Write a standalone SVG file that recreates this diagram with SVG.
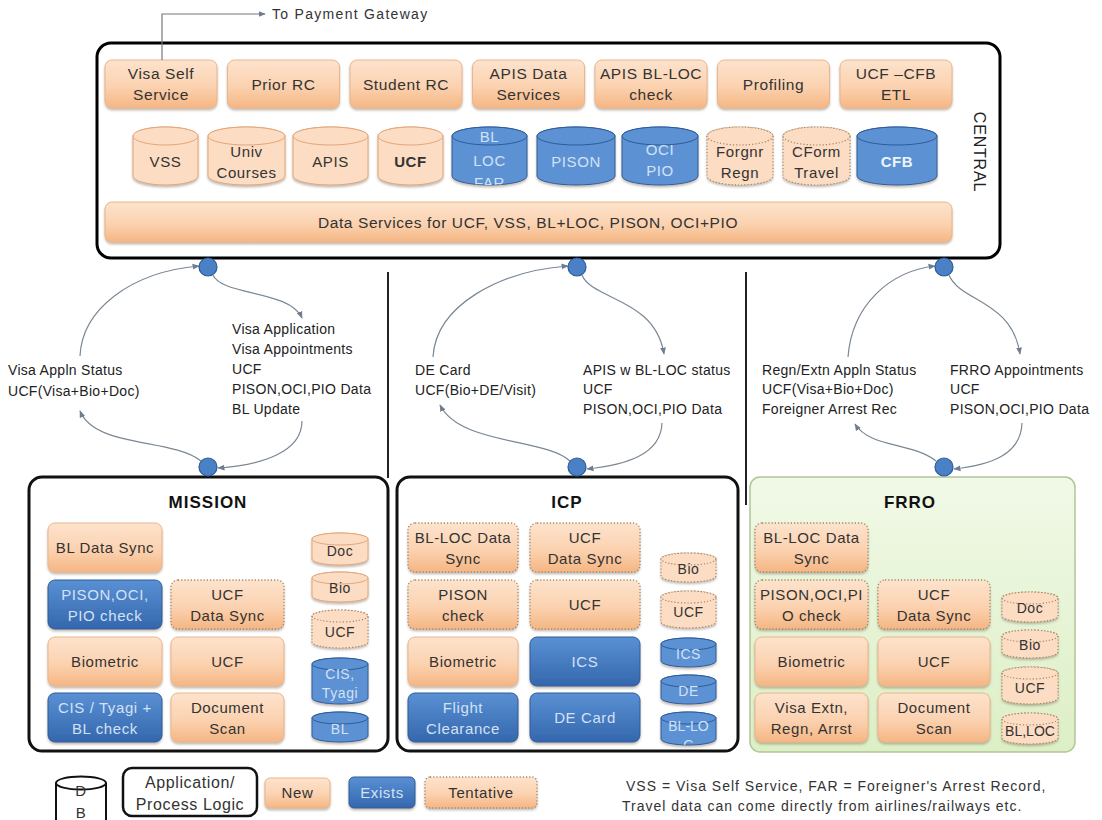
<svg xmlns="http://www.w3.org/2000/svg" width="1102" height="820" viewBox="0 0 1102 820">
<defs>
  <linearGradient id="gO" x1="0" y1="0" x2="0" y2="1">
    <stop offset="0" stop-color="#fde3cd"/>
    <stop offset="0.55" stop-color="#fbd2b0"/>
    <stop offset="1" stop-color="#f5b683"/>
  </linearGradient>
  <linearGradient id="gB" x1="0" y1="0" x2="0" y2="1">
    <stop offset="0" stop-color="#5a90d4"/>
    <stop offset="1" stop-color="#3467ad"/>
  </linearGradient>
  <linearGradient id="gG" x1="0" y1="0" x2="0" y2="1">
    <stop offset="0" stop-color="#f1f9e7"/>
    <stop offset="1" stop-color="#dcefc5"/>
  </linearGradient>
  <filter id="sh" x="-10%" y="-10%" width="120%" height="140%">
    <feDropShadow dx="0" dy="2" stdDeviation="1.3" flood-color="#7d6b5c" flood-opacity="0.45"/>
  </filter>
  <marker id="ah" viewBox="0 0 10 10" refX="9" refY="5" markerWidth="6" markerHeight="6" orient="auto">
    <path d="M0,1 L10,5 L0,9 Z" fill="#6f7d8c"/>
  </marker>
  <clipPath id="clBL"><path d="M452 136 V176 A37.5 9 0 0 0 527 176 V136 A37.5 9 0 0 0 452 136 Z"/></clipPath>
  <clipPath id="clIB"><path d="M661 718 V739 A27.5 6 0 0 0 716 739 V718 A27.5 6 0 0 0 661 718 Z"/></clipPath>
</defs>
<style>
  .n{fill:url(#gO);stroke:#eab58c;stroke-width:1;filter:url(#sh)}
  .e{fill:url(#gB);stroke:#2d5c9a;stroke-width:1;filter:url(#sh)}
  .d{fill:url(#gO);stroke:#a8855f;stroke-width:1.3;stroke-dasharray:1.2 2;filter:url(#sh)}
  .co{fill:#fcdcc2;stroke:#e2a77b;stroke-width:1}
  .cb{fill:#5c91d3;stroke:#2d5c9a;stroke-width:1}
  .cd{fill:#fcdcc2;stroke:#a8855f;stroke-width:1.2;stroke-dasharray:1.2 2}
  text{font-family:"Liberation Sans",Arial,sans-serif}
  .t{font-size:15px;fill:#333;text-anchor:middle;letter-spacing:0.6px}
  .tt{font-size:15.5px}
  .w{fill:#d3e1f5}
  .b{font-weight:bold}
  .l{font-size:14px;fill:#222;letter-spacing:0.3px}
  .ti{font-size:17px;font-weight:bold;fill:#111;text-anchor:middle;letter-spacing:1px}
  .c{fill:none;stroke:#7a8794;stroke-width:1.2;marker-end:url(#ah)}
  .dot{fill:#4a80c6;stroke:#2d5c9a;stroke-width:1.2}
  .dv{stroke:#222;stroke-width:2}
</style>
<rect width="1102" height="820" fill="#fff"/>

<!-- CENTRAL -->
<g id="central">
  <rect x="97" y="43" width="903" height="215" rx="14" fill="#fff" stroke="#000" stroke-width="3"/>
  <text class="t" transform="translate(974,152) rotate(90)" style="font-size:16px;fill:#222;letter-spacing:0.8px">CENTRAL</text>
</g>
<g id="visa-self-service"><rect class="n" x="105" y="60" width="112" height="48" rx="7"/><text class="t tt" x="161" y="79">Visa Self</text><text class="t tt" x="161" y="100">Service</text></g>
<g id="prior-rc"><rect class="n" x="227.5" y="60" width="112" height="48" rx="7"/><text class="t tt" x="283.5" y="90">Prior RC</text></g>
<g id="student-rc"><rect class="n" x="350" y="60" width="112" height="48" rx="7"/><text class="t tt" x="406" y="90">Student RC</text></g>
<g id="apis-data-services"><rect class="n" x="472.5" y="60" width="112" height="48" rx="7"/><text class="t tt" x="528.5" y="79">APIS Data</text><text class="t tt" x="528.5" y="100">Services</text></g>
<g id="apis-bl-loc-check"><rect class="n" x="595" y="60" width="112" height="48" rx="7"/><text class="t tt" x="651" y="79">APIS BL-LOC</text><text class="t tt" x="651" y="100">check</text></g>
<g id="profiling"><rect class="n" x="717.5" y="60" width="112" height="48" rx="7"/><text class="t tt" x="773.5" y="90">Profiling</text></g>
<g id="ucf-cfb-etl"><rect class="n" x="840" y="60" width="112" height="48" rx="7"/><text class="t tt" x="896" y="79">UCF –CFB</text><text class="t tt" x="896" y="100">ETL</text></g>

<g id="db-vss"><path class="co" filter="url(#sh)" d="M133 136 V176 A32.5 9 0 0 0 198 176 V136 A32.5 9 0 0 0 133 136 Z"/><ellipse class="co" cx="165.5" cy="136" rx="32.5" ry="9"/><text class="t" x="165.5" y="167">VSS</text></g>
<g id="db-univ"><path class="co" filter="url(#sh)" d="M208 136 V176 A38.5 9 0 0 0 285 176 V136 A38.5 9 0 0 0 208 136 Z"/><ellipse class="co" cx="246.5" cy="136" rx="38.5" ry="9"/><text class="t" x="246.5" y="157">Univ</text><text class="t" x="246.5" y="178">Courses</text></g>
<g id="db-apis"><path class="co" filter="url(#sh)" d="M293 136 V176 A37.5 9 0 0 0 368 176 V136 A37.5 9 0 0 0 293 136 Z"/><ellipse class="co" cx="330.5" cy="136" rx="37.5" ry="9"/><text class="t" x="330.5" y="167">APIS</text></g>
<g id="db-ucf"><path class="co" filter="url(#sh)" d="M378 136 V176 A32.5 9 0 0 0 443 176 V136 A32.5 9 0 0 0 378 136 Z"/><ellipse class="co" cx="410.5" cy="136" rx="32.5" ry="9"/><text class="t b" x="410.5" y="167">UCF</text></g>
<g id="db-bl-loc-far"><path class="cb" filter="url(#sh)" d="M452 136 V176 A37.5 9 0 0 0 527 176 V136 A37.5 9 0 0 0 452 136 Z"/><ellipse class="cb" cx="489.5" cy="136" rx="37.5" ry="9"/><g clip-path="url(#clBL)"><text class="t w" x="489.5" y="142">BL</text><text class="t w" x="489.5" y="166">LOC</text><text class="t w" x="489.5" y="188">FAR</text></g></g>
<g id="db-pison"><path class="cb" filter="url(#sh)" d="M537 136 V176 A39 9 0 0 0 615 176 V136 A39 9 0 0 0 537 136 Z"/><ellipse class="cb" cx="576" cy="136" rx="39" ry="9"/><text class="t w" x="576" y="167">PISON</text></g>
<g id="db-oci-pio"><path class="cb" filter="url(#sh)" d="M622 136 V176 A38 9 0 0 0 698 176 V136 A38 9 0 0 0 622 136 Z"/><ellipse class="cb" cx="660" cy="136" rx="38" ry="9"/><text class="t w" x="660" y="155">OCI</text><text class="t w" x="660" y="176">PIO</text></g>
<g id="db-forgnr-regn"><path class="cd" filter="url(#sh)" d="M707 136 V176 A33 9 0 0 0 773 176 V136 A33 9 0 0 0 707 136 Z"/><ellipse class="cd" cx="740" cy="136" rx="33" ry="9"/><text class="t" x="740" y="157">Forgnr</text><text class="t" x="740" y="178">Regn</text></g>
<g id="db-cform-travel"><path class="cd" filter="url(#sh)" d="M783 136 V176 A33.5 9 0 0 0 850 176 V136 A33.5 9 0 0 0 783 136 Z"/><ellipse class="cd" cx="816.5" cy="136" rx="33.5" ry="9"/><text class="t" x="816.5" y="157">CForm</text><text class="t" x="816.5" y="178">Travel</text></g>
<g id="db-cfb"><path class="cb" filter="url(#sh)" d="M857 136 V176 A40 9 0 0 0 937 176 V136 A40 9 0 0 0 857 136 Z"/><ellipse class="cb" cx="897" cy="136" rx="40" ry="9"/><text class="t b" x="897" y="167" style="fill:#eef4fc">CFB</text></g>

<g id="data-services"><rect class="n" x="105" y="202" width="847" height="40" rx="7"/><text class="t" x="528" y="228" style="font-size:15.5px;letter-spacing:0.6px">Data Services for UCF, VSS, BL+LOC, PISON, OCI+PIO</text></g>

<!-- MISSION -->
<g id="mission">
  <rect x="29" y="477" width="359" height="274" rx="13" fill="#fff" stroke="#111" stroke-width="3"/>
  <text class="ti" x="208" y="508">MISSION</text>
</g>
<g id="m-bl-data-sync"><rect class="n" x="48" y="523" width="114" height="49" rx="7"/><text class="t" x="105" y="553">BL Data Sync</text></g>
<g id="m-pison-check"><rect class="e" x="48" y="580" width="114" height="49" rx="7"/><text class="t w" x="105" y="600">PISON,OCI,</text><text class="t w" x="105" y="621">PIO check</text></g>
<g id="m-ucf-data-sync"><rect class="d" x="171" y="580" width="113" height="49" rx="7"/><text class="t" x="227.5" y="600">UCF</text><text class="t" x="227.5" y="621">Data Sync</text></g>
<g id="m-biometric"><rect class="n" x="48" y="637" width="114" height="49" rx="7"/><text class="t" x="105" y="667">Biometric</text></g>
<g id="m-ucf"><rect class="n" x="171" y="637" width="113" height="49" rx="7"/><text class="t" x="227.5" y="667">UCF</text></g>
<g id="m-cis-tyagi-bl-check"><rect class="e" x="48" y="693" width="114" height="49" rx="7"/><text class="t w" x="105" y="713">CIS / Tyagi +</text><text class="t w" x="105" y="734">BL check</text></g>
<g id="m-document-scan"><rect class="n" x="171" y="693" width="113" height="49" rx="7"/><text class="t" x="227.5" y="713">Document</text><text class="t" x="227.5" y="734">Scan</text></g>
<g id="m-db-doc"><path class="co" filter="url(#sh)" d="M312 539 V559 A28 6 0 0 0 368 559 V539 A28 6 0 0 0 312 539 Z"/><ellipse class="co" cx="340" cy="539" rx="28" ry="6"/><text class="t" x="340" y="556" style="font-size:14px">Doc</text></g>
<g id="m-db-bio"><path class="co" filter="url(#sh)" d="M312 578 V596 A28 6 0 0 0 368 596 V578 A28 6 0 0 0 312 578 Z"/><ellipse class="co" cx="340" cy="578" rx="28" ry="6"/><text class="t" x="340" y="593" style="font-size:14px">Bio</text></g>
<g id="m-db-ucf"><path class="cd" filter="url(#sh)" d="M312 616 V642 A28 6 0 0 0 368 642 V616 A28 6 0 0 0 312 616 Z"/><ellipse class="cd" cx="340" cy="616" rx="28" ry="6"/><text class="t" x="340" y="637" style="font-size:14px">UCF</text></g>
<g id="m-db-cis-tyagi"><path class="cb" filter="url(#sh)" d="M312 664 V698 A28 6 0 0 0 368 698 V664 A28 6 0 0 0 312 664 Z"/><ellipse class="cb" cx="340" cy="664" rx="28" ry="6"/><text class="t w" x="340" y="679" style="font-size:14px">CIS,</text><text class="t w" x="340" y="698" style="font-size:14px">Tyagi</text></g>
<g id="m-db-bl"><path class="cb" filter="url(#sh)" d="M312 718 V736 A28 6 0 0 0 368 736 V718 A28 6 0 0 0 312 718 Z"/><ellipse class="cb" cx="340" cy="718" rx="28" ry="6"/><text class="t w" x="340" y="734" style="font-size:14px">BL</text></g>

<!-- ICP -->
<g id="icp">
  <rect x="397" y="477" width="341" height="274" rx="13" fill="#fff" stroke="#111" stroke-width="3"/>
  <text class="ti" x="567" y="508">ICP</text>
</g>
<g id="i-bl-loc-data-sync"><rect class="d" x="408" y="523" width="110" height="49" rx="7"/><text class="t" x="463" y="543">BL-LOC Data</text><text class="t" x="463" y="564">Sync</text></g>
<g id="i-ucf-data-sync"><rect class="d" x="530" y="523" width="110" height="49" rx="7"/><text class="t" x="585" y="543">UCF</text><text class="t" x="585" y="564">Data Sync</text></g>
<g id="i-pison-check"><rect class="d" x="408" y="580" width="110" height="49" rx="7"/><text class="t" x="463" y="600">PISON</text><text class="t" x="463" y="621">check</text></g>
<g id="i-ucf"><rect class="d" x="530" y="580" width="110" height="49" rx="7"/><text class="t" x="585" y="610">UCF</text></g>
<g id="i-biometric"><rect class="n" x="408" y="637" width="110" height="49" rx="7"/><text class="t" x="463" y="667">Biometric</text></g>
<g id="i-ics"><rect class="e" x="530" y="637" width="110" height="49" rx="7"/><text class="t w" x="585" y="667">ICS</text></g>
<g id="i-flight-clearance"><rect class="e" x="408" y="693" width="110" height="49" rx="7"/><text class="t w" x="463" y="713">Flight</text><text class="t w" x="463" y="734">Clearance</text></g>
<g id="i-de-card"><rect class="e" x="530" y="693" width="110" height="49" rx="7"/><text class="t w" x="585" y="723">DE Card</text></g>
<g id="i-db-bio"><path class="cd" filter="url(#sh)" d="M661 559 V576 A27.5 6 0 0 0 716 576 V559 A27.5 6 0 0 0 661 559 Z"/><ellipse class="cd" cx="688.5" cy="559" rx="27.5" ry="6"/><text class="t" x="688.5" y="574" style="font-size:14px">Bio</text></g>
<g id="i-db-ucf"><path class="cd" filter="url(#sh)" d="M661 597 V622 A27.5 6 0 0 0 716 622 V597 A27.5 6 0 0 0 661 597 Z"/><ellipse class="cd" cx="688.5" cy="597" rx="27.5" ry="6"/><text class="t" x="688.5" y="617" style="font-size:14px">UCF</text></g>
<g id="i-db-ics"><path class="cb" filter="url(#sh)" d="M661 644 V661 A27.5 6 0 0 0 716 661 V644 A27.5 6 0 0 0 661 644 Z"/><ellipse class="cb" cx="688.5" cy="644" rx="27.5" ry="6"/><text class="t w" x="688.5" y="659" style="font-size:14px">ICS</text></g>
<g id="i-db-de"><path class="cb" filter="url(#sh)" d="M661 681 V698 A27.5 6 0 0 0 716 698 V681 A27.5 6 0 0 0 661 681 Z"/><ellipse class="cb" cx="688.5" cy="681" rx="27.5" ry="6"/><text class="t w" x="688.5" y="696" style="font-size:14px">DE</text></g>
<g id="i-db-bl-loc"><path class="cb" filter="url(#sh)" d="M661 718 V739 A27.5 6 0 0 0 716 739 V718 A27.5 6 0 0 0 661 718 Z"/><ellipse class="cb" cx="688.5" cy="718" rx="27.5" ry="6"/><g clip-path="url(#clIB)"><text class="t w" x="688.5" y="731" style="font-size:14px;letter-spacing:0">BL-LO</text><text class="t w" x="688.5" y="750" style="font-size:14px">C</text></g></g>

<!-- FRRO -->
<g id="frro">
  <rect x="750" y="477" width="325" height="275" rx="10" fill="url(#gG)" stroke="#b2c49a" stroke-width="1.5"/>
  <text class="ti" x="910" y="508">FRRO</text>
</g>
<g id="f-bl-loc-data-sync"><rect class="d" x="755" y="523" width="113" height="49" rx="7"/><text class="t" x="811.5" y="543">BL-LOC Data</text><text class="t" x="811.5" y="564">Sync</text></g>
<g id="f-pison-check"><rect class="d" x="755" y="580" width="113" height="49" rx="7"/><text class="t" x="811.5" y="600">PISON,OCI,PI</text><text class="t" x="811.5" y="621">O check</text></g>
<g id="f-ucf-data-sync"><rect class="d" x="878" y="580" width="112" height="49" rx="7"/><text class="t" x="934" y="600">UCF</text><text class="t" x="934" y="621">Data Sync</text></g>
<g id="f-biometric"><rect class="n" x="755" y="637" width="113" height="49" rx="7"/><text class="t" x="811.5" y="667">Biometric</text></g>
<g id="f-ucf"><rect class="n" x="878" y="637" width="112" height="49" rx="7"/><text class="t" x="934" y="667">UCF</text></g>
<g id="f-visa-extn"><rect class="n" x="755" y="693" width="113" height="49" rx="7"/><text class="t" x="811.5" y="713">Visa Extn,</text><text class="t" x="811.5" y="734">Regn, Arrst</text></g>
<g id="f-document-scan"><rect class="n" x="878" y="693" width="112" height="49" rx="7"/><text class="t" x="934" y="713">Document</text><text class="t" x="934" y="734">Scan</text></g>
<g id="f-db-doc"><path class="cd" filter="url(#sh)" d="M1002 598 V616 A28 6 0 0 0 1058 616 V598 A28 6 0 0 0 1002 598 Z"/><ellipse class="cd" cx="1030" cy="598" rx="28" ry="6"/><text class="t" x="1030" y="613" style="font-size:14px">Doc</text></g>
<g id="f-db-bio"><path class="cd" filter="url(#sh)" d="M1002 636 V652 A28 6 0 0 0 1058 652 V636 A28 6 0 0 0 1002 636 Z"/><ellipse class="cd" cx="1030" cy="636" rx="28" ry="6"/><text class="t" x="1030" y="650" style="font-size:14px">Bio</text></g>
<g id="f-db-ucf"><path class="cd" filter="url(#sh)" d="M1002 673 V698 A28 6 0 0 0 1058 698 V673 A28 6 0 0 0 1002 673 Z"/><ellipse class="cd" cx="1030" cy="673" rx="28" ry="6"/><text class="t" x="1030" y="693" style="font-size:14px">UCF</text></g>
<g id="f-db-bl-loc"><path class="cd" filter="url(#sh)" d="M1002 719 V738 A28 6 0 0 0 1058 738 V719 A28 6 0 0 0 1002 719 Z"/><ellipse class="cd" cx="1030" cy="719" rx="28" ry="6"/><text class="t" x="1030" y="736" style="font-size:14px;letter-spacing:0">BL,LOC</text></g>

<!-- dividers -->
<g id="dividers">
  <line class="dv" x1="388" y1="272" x2="388" y2="478"/>
  <line class="dv" x1="746" y1="272" x2="746" y2="505"/>
</g>

<!-- connectors -->
<g id="connectors">
  <path d="M162 60 V14 H265" fill="none" stroke="#777" stroke-width="1.2" marker-end="url(#ah)"/>
  <path class="c" d="M213 275 C222 296, 290 290, 302 318"/>
  <path class="c" d="M302 421 C302 452, 262 465, 218 468"/>
  <path class="c" d="M201 461 C172 438, 95 448, 80 411"/>
  <path class="c" d="M80 356 C82 310, 130 272, 199 266"/>
  <path class="c" d="M582 275 C592 300, 655 298, 664 354"/>
  <path class="c" d="M662 423 C661 455, 625 465, 587 469"/>
  <path class="c" d="M570 461 C545 438, 460 445, 440 405"/>
  <path class="c" d="M433 357 C436 305, 500 271, 568 266"/>
  <path class="c" d="M949 275 C960 302, 1012 300, 1020 354"/>
  <path class="c" d="M1022 423 C1021 455, 990 465, 954 469"/>
  <path class="c" d="M936 461 C912 442, 870 448, 855 424"/>
  <path class="c" d="M848 357 C852 305, 890 271, 935 266"/>
</g>
<g id="ports">
  <circle class="dot" cx="208" cy="267" r="9"/>
  <circle class="dot" cx="577" cy="267" r="9"/>
  <circle class="dot" cx="944" cy="267" r="9"/>
  <circle class="dot" cx="208" cy="467" r="9"/>
  <circle class="dot" cx="577" cy="467" r="9"/>
  <circle class="dot" cx="944" cy="467" r="9"/>
</g>

<!-- connector labels -->
<g id="labels">
  <text class="l" x="272" y="19" style="letter-spacing:1.3px;fill:#333">To Payment Gateway</text>
  <text class="l" x="8" y="375">Visa Appln Status</text>
  <text class="l" x="8" y="396">UCF(Visa+Bio+Doc)</text>
  <text class="l" x="232" y="334">Visa Application</text>
  <text class="l" x="232" y="354">Visa Appointments</text>
  <text class="l" x="232" y="374">UCF</text>
  <text class="l" x="232" y="394">PISON,OCI,PIO Data</text>
  <text class="l" x="232" y="414">BL Update</text>
  <text class="l" x="415" y="375">DE Card</text>
  <text class="l" x="415" y="395">UCF(Bio+DE/Visit)</text>
  <text class="l" x="583" y="375">APIS w BL-LOC status</text>
  <text class="l" x="583" y="394">UCF</text>
  <text class="l" x="583" y="414">PISON,OCI,PIO Data</text>
  <text class="l" x="762" y="375">Regn/Extn Appln Status</text>
  <text class="l" x="762" y="394">UCF(Visa+Bio+Doc)</text>
  <text class="l" x="762" y="414">Foreigner Arrest Rec</text>
  <text class="l" x="950" y="375">FRRO Appointments</text>
  <text class="l" x="950" y="394">UCF</text>
  <text class="l" x="950" y="414">PISON,OCI,PIO Data</text>
</g>

<!-- legend -->
<g id="legend-db"><path d="M56 783 V826 M106 783 V826" fill="none" stroke="#111" stroke-width="2"/><ellipse cx="81" cy="783" rx="25" ry="6.5" fill="#fff" stroke="#111" stroke-width="2"/><text class="t" x="81" y="796" style="font-size:15px">D</text><text class="t" x="81" y="818" style="font-size:15px">B</text></g>
<g id="legend-app"><rect x="123" y="768" width="134" height="48" rx="9" fill="#fff" stroke="#111" stroke-width="2.5"/><text class="t" x="190" y="788" style="font-size:16px">Application/</text><text class="t" x="190" y="810" style="font-size:16px">Process Logic</text></g>
<g id="legend-new"><rect class="n" x="265" y="778" width="65" height="30" rx="5"/><text class="t" x="297.5" y="798">New</text></g>
<g id="legend-exists"><rect class="e" x="349" y="777" width="66" height="31" rx="5"/><text class="t w" x="382" y="798">Exists</text></g>
<g id="legend-tentative"><rect class="d" x="425" y="777" width="112" height="31" rx="5"/><text class="t" x="481" y="798">Tentative</text></g>
<g id="footnote">
  <text class="l" x="626" y="791" style="letter-spacing:1px;fill:#333">VSS = Visa Self Service, FAR = Foreigner's Arrest Record,</text>
  <text class="l" x="622" y="811" style="letter-spacing:1px;fill:#333">Travel data can come directly from airlines/railways etc.</text>
</g>
</svg>
